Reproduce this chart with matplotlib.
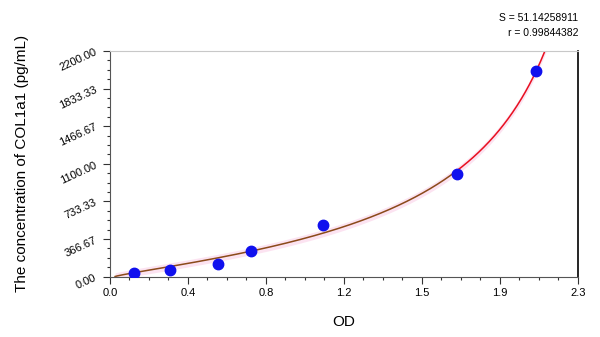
import numpy as np
import matplotlib
matplotlib.use('Agg')
import matplotlib.pyplot as plt
from matplotlib.ticker import FixedLocator, AutoMinorLocator

plt.rcParams['font.family'] = ['Liberation Sans', 'DejaVu Sans']

# standard points
od = [0.116, 0.293, 0.533, 0.693, 1.045, 1.704, 2.092]
conc = [31.25, 62.5, 125, 250, 500, 1000, 2000]

x_ticks = [0, 2.3/6, 2*2.3/6, 3*2.3/6, 4*2.3/6, 5*2.3/6, 2.3]
x_labels = ['0.0', '0.4', '0.8', '1.2', '1.5', '1.9', '2.3']
y_ticks = [0, 366.67, 733.33, 1100, 1466.67, 1833.33, 2200]
y_labels = ['0.00', '366.67', '733.33', '1100.00', '1466.67', '1833.33', '2200.00']

s_text = 'S = 51.14258911'
r_text = 'r = 0.99844382'

# inverse 4PL fitted in concentration units: conc = c*((x-a)/(d-x))**(1/b)
x = np.array(od)
y = np.array(conc, dtype=float)
A = np.linspace(-0.2, 0.025, 46)[:, None, None, None]
D = np.linspace(2.15, 4.0, 75)[None, :, None, None]
B = np.linspace(0.4, 3.0, 105)[None, None, :, None]
t = ((x - A) / (D - x)) ** (1 / B)
C = (t * y).sum(-1) / (t * t).sum(-1)
err = ((y - C[..., None] * t) ** 2).sum(-1)
i, j, k = np.unravel_index(np.argmin(err), err.shape)
a, d, b, c = A.ravel()[i], D.ravel()[j], B.ravel()[k], C[i, j, k]

xs = np.linspace(max(a, 0.025), min(d - 1e-3, 2.25), 600)
cs = c * ((xs - a) / (d - xs)) ** (1 / b)

fig = plt.figure(figsize=(6, 3.37), dpi=100)
ax = fig.add_axes([0.1833, 0.1795, 0.78, 0.6692])

ax.fill_between(xs, cs - 35, cs + 35, color='#fce3f1', lw=0, zorder=1)
m = xs <= 1.70
ax.plot(xs[m], cs[m], color='#8b4a1a', lw=1.1, zorder=2)
ax.plot(xs[~m], cs[~m], color='#e81020', lw=1.1, zorder=2)
ax.plot(od, conc, 'o', color='#1010ee', ms=7.5, zorder=3)

ax.set_xlim(0, 2.3)
ax.set_ylim(0, 2200)
ax.xaxis.set_major_locator(FixedLocator(x_ticks))
ax.set_xticklabels(x_labels)
ax.yaxis.set_major_locator(FixedLocator(y_ticks))
ax.set_yticklabels(y_labels, rotation=25)
ax.xaxis.set_minor_locator(AutoMinorLocator(4))
ax.yaxis.set_minor_locator(AutoMinorLocator(4))
ax.tick_params(which='major', length=5, width=0.8, labelsize=8, colors='#333333', labelcolor='black')
ax.tick_params(which='minor', length=2.5, width=0.8, colors='#333333')

ax.spines['top'].set_color('#c8c8c8')
ax.spines['left'].set_color('#555555')
ax.spines['bottom'].set_color('#555555')
ax.spines['right'].set_color('black')
ax.spines['right'].set_linewidth(1.2)
for s in ['top', 'left', 'bottom']:
    ax.spines[s].set_linewidth(0.8)

ax.set_xlabel('OD', fontsize=11, labelpad=12)
ax.set_ylabel('The concentration of COL1a1 (pg/mL)', fontsize=11, labelpad=20)

fig.text(578/600, 1-18/337, s_text, ha='right', va='center', fontsize=7.5)
fig.text(578/600, 1-33/337, r_text, ha='right', va='center', fontsize=7.5)

fig.savefig('out.png', dpi=100)
